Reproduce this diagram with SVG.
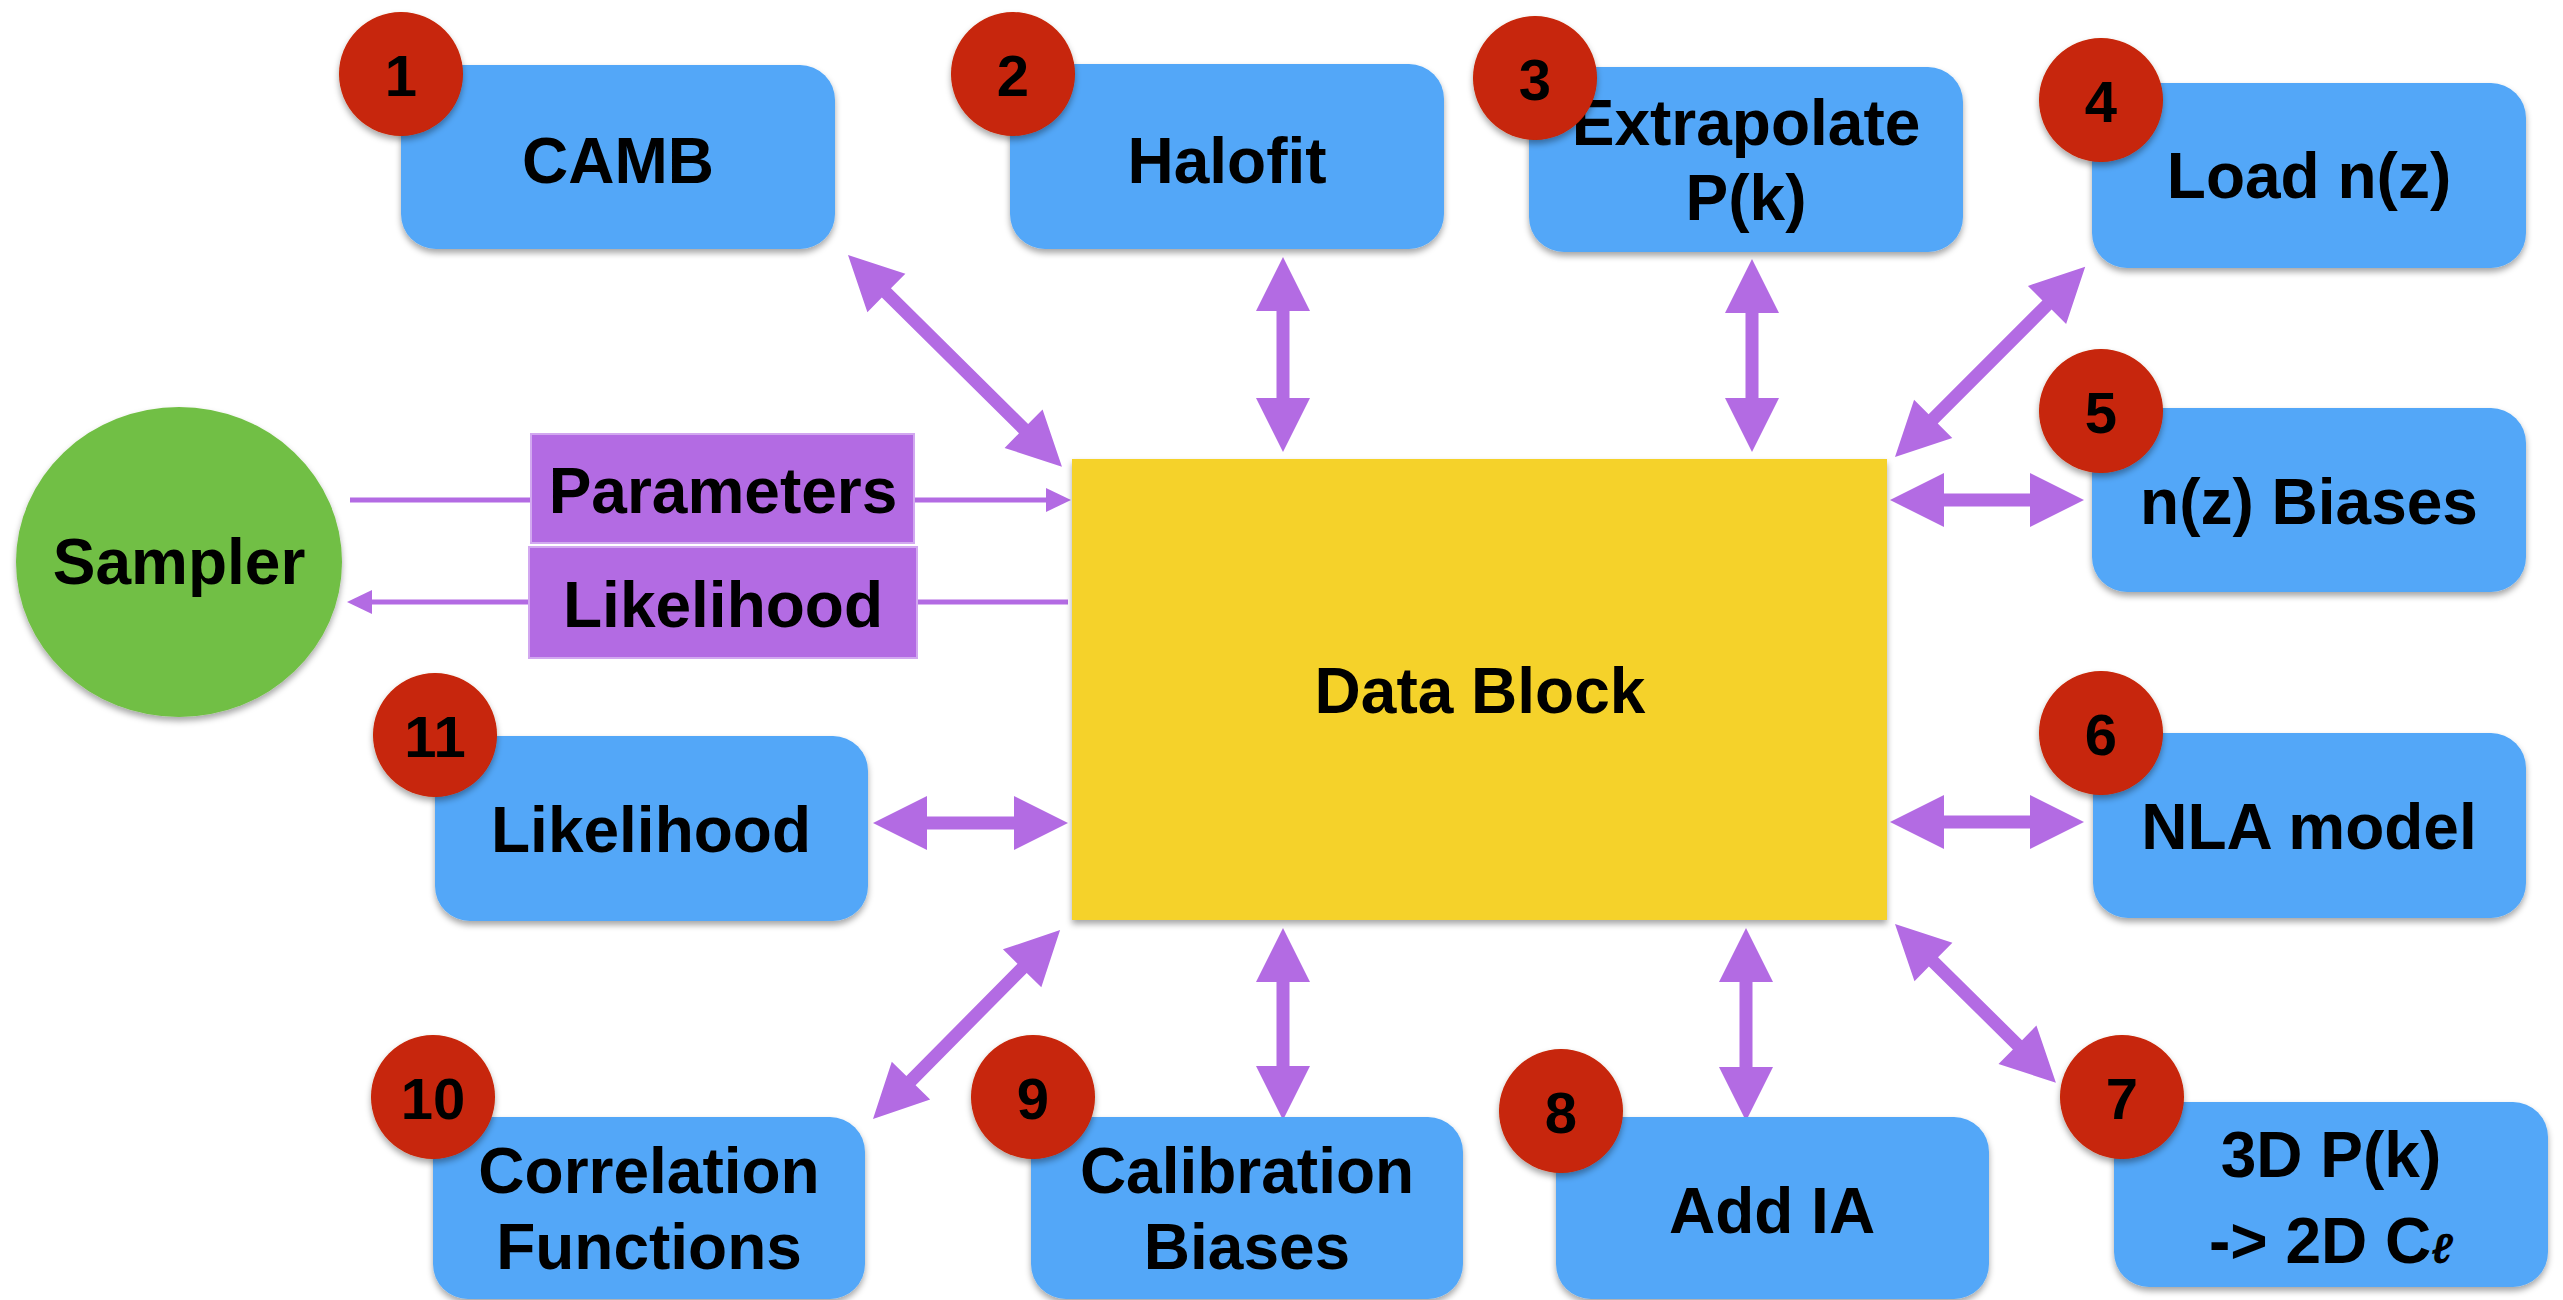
<svg xmlns="http://www.w3.org/2000/svg" width="2563" height="1300" viewBox="0 0 2563 1300">
<defs>
<filter id="sh" x="-10%" y="-10%" width="120%" height="130%">
<feDropShadow dx="0" dy="4" stdDeviation="3" flood-color="#000" flood-opacity="0.35"/>
</filter>
<path id="h194" d="M0,0 L54,-27 L54,-6.5 L140,-6.5 L140,-27 L194,0 L140,27 L140,6.5 L54,6.5 L54,27 Z"/>
</defs>
<style>
.box{fill:#52A7F8;filter:url(#sh)}
.badge{fill:#C72507;filter:url(#sh)}
.lbl{font-family:"Liberation Sans",Arial,Helvetica,sans-serif;font-weight:bold;font-size:64px;fill:#000;text-anchor:middle}
.num{font-family:"Liberation Sans",Arial,Helvetica,sans-serif;font-weight:bold;font-size:58px;fill:#000;text-anchor:middle}
.arr{fill:#B36BE3}
.ln{stroke:#B36BE3;stroke-width:5;fill:none}
</style>
<rect width="2563" height="1300" fill="#fff"/>

<g id="connectors">
<path class="arr" transform="translate(848,255) rotate(44.7)" d="M0,0 L54,-27 L54,-6.5 L247,-6.5 L247,-27 L301,0 L247,27 L247,6.5 L54,6.5 L54,27 Z"/>
<path class="arr" transform="translate(1283,257) rotate(90)" d="M0,0 L54,-27 L54,-6.5 L141,-6.5 L141,-27 L195,0 L141,27 L141,6.5 L54,6.5 L54,27 Z"/>
<path class="arr" transform="translate(1752,259) rotate(90)" d="M0,0 L54,-27 L54,-6.5 L139,-6.5 L139,-27 L193,0 L139,27 L139,6.5 L54,6.5 L54,27 Z"/>
<path class="arr" transform="translate(1895,457) rotate(-45)" d="M0,0 L54,-27 L54,-6.5 L215,-6.5 L215,-27 L269,0 L215,27 L215,6.5 L54,6.5 L54,27 Z"/>
<use class="arr" href="#h194" transform="translate(1890,500)"/>
<use class="arr" href="#h194" transform="translate(1890,822)"/>
<path class="arr" transform="translate(1895,924) rotate(44.6)" d="M0,0 L54,-27 L54,-6.5 L172,-6.5 L172,-27 L226,0 L172,27 L172,6.5 L54,6.5 L54,27 Z"/>
<path class="arr" transform="translate(1746,928) rotate(90)" d="M0,0 L54,-27 L54,-6.5 L139,-6.5 L139,-27 L193,0 L139,27 L139,6.5 L54,6.5 L54,27 Z"/>
<path class="arr" transform="translate(1283,928) rotate(90)" d="M0,0 L54,-27 L54,-6.5 L138,-6.5 L138,-27 L192,0 L138,27 L138,6.5 L54,6.5 L54,27 Z"/>
<path class="arr" transform="translate(873,1119) rotate(-45.3)" d="M0,0 L54,-27 L54,-6.5 L212,-6.5 L212,-27 L266,0 L212,27 L212,6.5 L54,6.5 L54,27 Z"/>
<path class="arr" transform="translate(873,823)" d="M0,0 L54,-27 L54,-6.5 L141,-6.5 L141,-27 L195,0 L141,27 L141,6.5 L54,6.5 L54,27 Z"/>
<line class="ln" x1="350" y1="500" x2="1048" y2="500"/>
<polygon class="arr" points="1046,488 1071,500 1046,512"/>
<line class="ln" x1="1068" y1="602" x2="370" y2="602"/>
<polygon class="arr" points="372,590 347,602 372,614"/>
</g>

<g id="sampler">
<ellipse cx="179" cy="562" rx="163" ry="155" fill="#71BF44" filter="url(#sh)"/>
<text class="lbl" x="179" y="584">Sampler</text>
</g>

<g id="parameters">
<rect x="531" y="434" width="383" height="109" fill="#B36BE3" stroke="#D2A8F0" stroke-width="2"/>
<text class="lbl" x="723" y="513" font-size="62">Parameters</text>
</g>

<g id="likelihood-msg">
<rect x="529" y="547" width="388" height="111" fill="#B36BE3" stroke="#D2A8F0" stroke-width="2"/>
<text class="lbl" x="723" y="627">Likelihood</text>
</g>

<g id="datablock">
<rect x="1072" y="459" width="815" height="461" fill="#F5D22A" filter="url(#sh)"/>
<text class="lbl" x="1480" y="713">Data Block</text>
</g>

<g id="n1">
<rect class="box" x="401" y="65" width="434" height="184" rx="35"/>
<text class="lbl" x="618" y="183">CAMB</text>
<circle class="badge" cx="401" cy="74" r="62"/>
<text class="num" x="401" y="96">1</text>
</g>

<g id="n2">
<rect class="box" x="1010" y="64" width="434" height="185" rx="35"/>
<text class="lbl" x="1227" y="183">Halofit</text>
<circle class="badge" cx="1013" cy="74" r="62"/>
<text class="num" x="1013" y="96">2</text>
</g>

<g id="n3">
<rect class="box" x="1529" y="67" width="434" height="185" rx="35"/>
<text class="lbl" x="1746" y="145">Extrapolate</text>
<text class="lbl" x="1746" y="220">P(k)</text>
<circle class="badge" cx="1535" cy="78" r="62"/>
<text class="num" x="1535" y="100">3</text>
</g>

<g id="n4">
<rect class="box" x="2092" y="83" width="434" height="185" rx="35"/>
<text class="lbl" x="2309" y="198">Load n(z)</text>
<circle class="badge" cx="2101" cy="100" r="62"/>
<text class="num" x="2101" y="122">4</text>
</g>

<g id="n5">
<rect class="box" x="2092" y="408" width="434" height="184" rx="35"/>
<text class="lbl" x="2309" y="524">n(z) Biases</text>
<circle class="badge" cx="2101" cy="411" r="62"/>
<text class="num" x="2101" y="433">5</text>
</g>

<g id="n6">
<rect class="box" x="2093" y="733" width="433" height="185" rx="35"/>
<text class="lbl" x="2309" y="849">NLA model</text>
<circle class="badge" cx="2101" cy="733" r="62"/>
<text class="num" x="2101" y="755">6</text>
</g>

<g id="n7">
<rect class="box" x="2114" y="1102" width="434" height="185" rx="35"/>
<text class="lbl" x="2331" y="1177">3D P(k)</text>
<text class="lbl" x="2331" y="1263">-&gt; 2D C<tspan font-size="42" font-style="italic">ℓ</tspan></text>
<circle class="badge" cx="2122" cy="1097" r="62"/>
<text class="num" x="2122" y="1119">7</text>
</g>

<g id="n8">
<rect class="box" x="1556" y="1117" width="433" height="182" rx="35"/>
<text class="lbl" x="1772" y="1233">Add IA</text>
<circle class="badge" cx="1561" cy="1111" r="62"/>
<text class="num" x="1561" y="1133">8</text>
</g>

<g id="n9">
<rect class="box" x="1031" y="1117" width="432" height="182" rx="35"/>
<text class="lbl" x="1247" y="1193">Calibration</text>
<text class="lbl" x="1247" y="1269">Biases</text>
<circle class="badge" cx="1033" cy="1097" r="62"/>
<text class="num" x="1033" y="1119">9</text>
</g>

<g id="n10">
<rect class="box" x="433" y="1117" width="432" height="182" rx="35"/>
<text class="lbl" x="649" y="1193">Correlation</text>
<text class="lbl" x="649" y="1269">Functions</text>
<circle class="badge" cx="433" cy="1097" r="62"/>
<text class="num" x="433" y="1119">10</text>
</g>

<g id="n11">
<rect class="box" x="435" y="736" width="433" height="185" rx="35"/>
<text class="lbl" x="651" y="852">Likelihood</text>
<circle class="badge" cx="435" cy="735" r="62"/>
<text class="num" x="435" y="757">11</text>
</g>
</svg>
